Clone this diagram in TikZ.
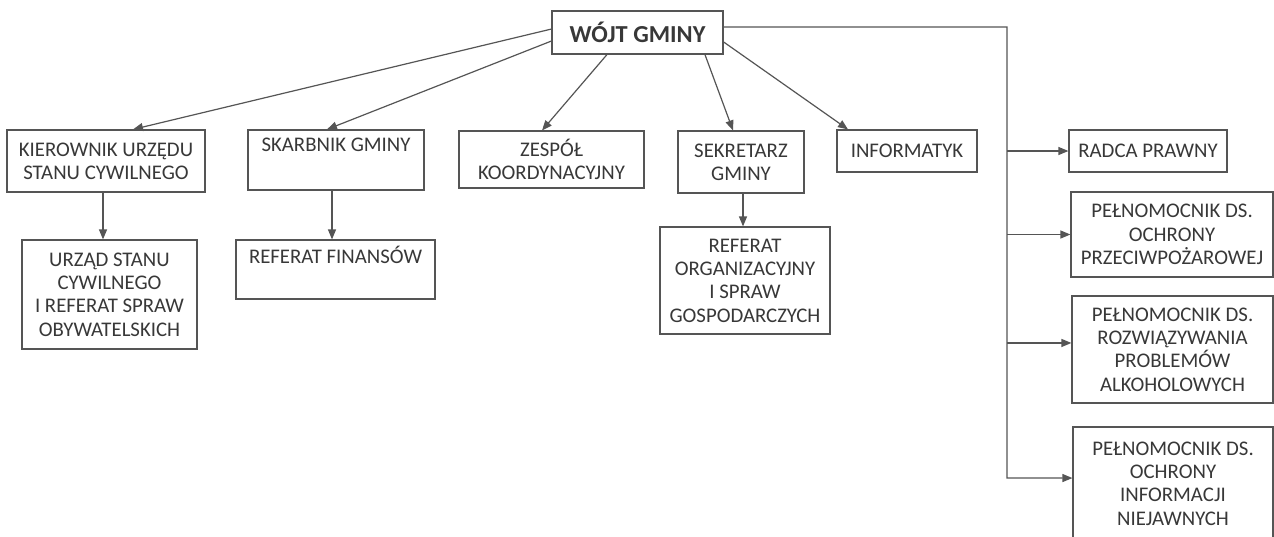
\documentclass[tikz,border=0pt]{standalone}
\usepackage{fontspec}
\setmainfont{Carlito}
\usetikzlibrary{arrows.meta}
\definecolor{linec}{HTML}{555555}
\definecolor{textc}{HTML}{383838}
\tikzset{
  box/.style={draw=linec, line width=0.9pt, align=center, inner sep=0pt, text=textc,
    font=\fontsize{15.6}{17.5}\selectfont},
  arr/.style={draw=linec, line width=0.9pt, -{Triangle[length=7.5pt,width=6pt]}},
  ln/.style={draw=linec, line width=0.9pt}
}
\begin{document}
\begin{tikzpicture}[x=0.75pt, y=-0.75pt]
\fill[white] (0,0) rectangle (1274,536);
\useasboundingbox (0,0) rectangle (1274,536);
\clip (0,0) rectangle (1274,536);

\node[box, minimum width=128.25pt, minimum height=32.25pt, font=\fontsize{18.3}{21}\selectfont\bfseries] (wojt) at (637.5,32.5) {WÓJT GMINY};

\node[box, minimum width=148.5pt, minimum height=46.5pt] (kier) at (106,161) {KIEROWNIK URZĘDU\\STANU CYWILNEGO};
\node[box, minimum width=132pt, minimum height=45pt] (skarb) at (336,160) {SKARBNIK GMINY\\\strut};
\node[box, minimum width=138.75pt, minimum height=42.75pt] (zesp) at (551.5,159.5) {ZESPÓŁ\\KOORDYNACYJNY};
\node[box, minimum width=94.5pt, minimum height=46.5pt] (sekr) at (741,162) {SEKRETARZ\\GMINY};
\node[box, minimum width=105pt, minimum height=31.5pt] (info) at (907,151) {INFORMATYK};

\node[box, minimum width=131.25pt, minimum height=81.75pt] (urzad) at (109.5,294.5) {URZĄD STANU\\CYWILNEGO\\I REFERAT SPRAW\\OBYWATELSKICH};
\node[box, minimum width=149.25pt, minimum height=44.25pt] (fin) at (335.5,269.5) {REFERAT FINANSÓW\\\strut};
\node[box, minimum width=127.5pt, minimum height=80.25pt] (org) at (745,280.5) {REFERAT\\ORGANIZACYJNY\\I SPRAW\\GOSPODARCZYCH};

\node[box, minimum width=118.5pt, minimum height=31.5pt] (radca) at (1148,151) {RADCA PRAWNY};
\node[box, minimum width=151.5pt, minimum height=63.75pt] (pel1) at (1172,234.5) {PEŁNOMOCNIK DS.\\OCHRONY\\PRZECIWPOŻAROWEJ};
\node[box, minimum width=150.75pt, minimum height=80.25pt] (pel2) at (1172.5,349.5) {PEŁNOMOCNIK DS.\\ROZWIĄZYWANIA\\PROBLEMÓW\\ALKOHOLOWYCH};
\node[box, minimum width=150pt, minimum height=84.75pt] (pel3) at (1173,483.5) {PEŁNOMOCNIK DS.\\OCHRONY\\INFORMACJI\\NIEJAWNYCH};

% arrows from Wojt
\draw[arr] ([yshift=2.6pt]wojt.west) -- ([xshift=20.25pt]kier.north);
\draw[arr] ([yshift=-6.4pt]wojt.west) -- ([xshift=-6.75pt]skarb.north);
\draw[arr] ([xshift=-22.9pt]wojt.south) -- ([xshift=-7.1pt]zesp.north);
\draw[arr] ([xshift=50.6pt]wojt.south) -- ([xshift=-6pt]sekr.north);
\draw[arr] ([yshift=-7.1pt]wojt.east) -- ([xshift=-44.25pt]info.north);

% vertical arrows
\draw[arr] ([xshift=-2.25pt]kier.south) -- ([xshift=-2.25pt]kier.south |- urzad.north);
\draw[arr] ([xshift=-3pt]skarb.south) -- ([xshift=-3pt]skarb.south |- fin.north);
\draw[arr] ([xshift=1.5pt]sekr.south) -- ([xshift=1.5pt]sekr.south |- org.north);

% trunk to the right
\coordinate (trunk) at (1007,27);
\draw[arr] ([yshift=4.1pt]wojt.east) -- (trunk) |- ([yshift=4.1pt]pel3.west);
\draw[arr] (trunk |- radca.west) -- (radca.west);
\draw[arr] (trunk |- pel1.west) -- (pel1.west);
\draw[arr] ([yshift=4.9pt]trunk |- pel2.west) -- ([yshift=4.9pt]pel2.west);
\end{tikzpicture}
\end{document}
